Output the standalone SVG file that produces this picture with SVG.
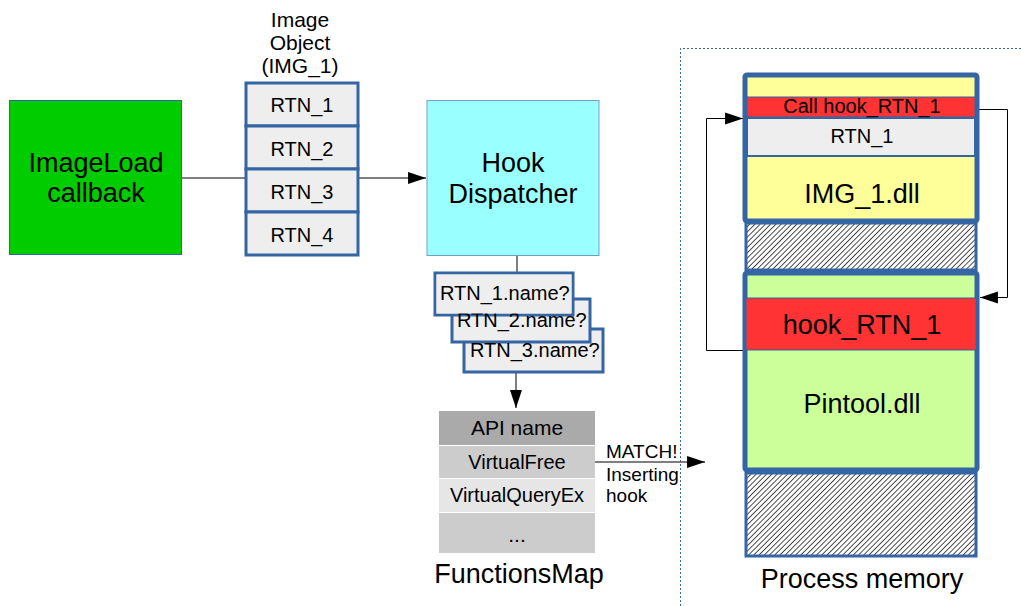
<svg xmlns="http://www.w3.org/2000/svg" width="1021" height="606" viewBox="0 0 1021 606">
  <style>
    text { font-family: "Liberation Sans", Arial, sans-serif; fill: #000; }
    .c { text-anchor: middle; }
    .s { font-size: 20px; }
    .l { font-size: 27px; }
    .cell { fill: #eeeeee; stroke: #3465a4; stroke-width: 3; }
    .wire { fill: none; stroke: #555; stroke-width: 1.5; }
    .wire2 { fill: none; stroke: #000; stroke-width: 1; }
    .mem { stroke: #3465a4; stroke-width: 5; }
    .hatch { fill: url(#hatch); stroke: #3465a4; stroke-width: 3; }
    .frame { fill: none; stroke: #3465a4; stroke-width: 1; stroke-dasharray: 2 2; }
  </style>
  <defs>
    <marker id="arrow" viewBox="0 0 10 10" refX="10" refY="5" markerWidth="10" markerHeight="10" markerUnits="userSpaceOnUse" orient="auto" overflow="visible">
      <path d="M0,0 L10,5 L0,10 Z" fill="#000" transform="scale(1.8,1.2) translate(-4.4,-0.8)"/>
    </marker>
    <pattern id="hatch" width="3.7" height="3.7" patternUnits="userSpaceOnUse" patternTransform="rotate(45)">
      <rect width="3.7" height="3.7" fill="#fff"/>
      <line x1="0" y1="0" x2="0" y2="3.7" stroke="#000" stroke-width="1.4"/>
    </pattern>
  </defs>

  <rect width="1021" height="606" fill="#fff"/>

  <!-- process memory frame -->
  <path class="frame" d="M680.5,606 L680.5,48.5 L1021,48.5"/>

  <g id="connectors">
    <line class="wire" x1="182" y1="178" x2="245" y2="178"/>
    <line class="wire" x1="358" y1="178" x2="426" y2="178" marker-end="url(#arrow)"/>
    <line class="wire" x1="517" y1="256" x2="517" y2="272"/>
    <line class="wire" x1="516" y1="372" x2="516" y2="408" marker-end="url(#arrow)"/>
    <line class="wire" x1="595" y1="462" x2="705" y2="462" marker-end="url(#arrow)"/>
    <polyline class="wire2" points="979,109.5 1007.5,109.5 1007.5,297.5 980,297.5" marker-end="url(#arrow)"/>
    <polyline class="wire2" points="745,350.5 706.5,350.5 706.5,118.5 743,118.5" marker-end="url(#arrow)"/>
  </g>

  <g id="imageload">
    <rect x="9.5" y="100.5" width="172" height="154" fill="#00cc00" stroke="#3465a4" stroke-width="1"/>
    <text class="c l" x="96" y="172">ImageLoad</text>
    <text class="c l" x="96" y="202">callback</text>
  </g>

  <g id="image-object">
    <text class="c" x="300" y="27" font-size="21">Image</text>
    <text class="c" x="300" y="50" font-size="21">Object</text>
    <text class="c" x="300" y="73" font-size="21">(IMG_1)</text>
    <rect class="cell" x="246" y="83" width="112" height="43"/>
    <rect class="cell" x="246" y="126" width="112" height="43"/>
    <rect class="cell" x="246" y="169" width="112" height="43"/>
    <rect class="cell" x="246" y="212" width="112" height="43"/>
    <text class="c s" x="302" y="112">RTN_1</text>
    <text class="c s" x="302" y="156">RTN_2</text>
    <text class="c s" x="302" y="199">RTN_3</text>
    <text class="c s" x="302" y="242">RTN_4</text>
  </g>

  <g id="hook-dispatcher">
    <rect x="427" y="100.5" width="172" height="155" fill="#99ffff" stroke="#729fcf" stroke-width="1"/>
    <text class="c l" x="513" y="172">Hook</text>
    <text class="c l" x="513" y="203">Dispatcher</text>
  </g>

  <g id="name-queries">
    <rect class="cell" x="464" y="329" width="139" height="43"/>
    <rect class="cell" x="452" y="299" width="138" height="43"/>
    <rect class="cell" x="435" y="273" width="138" height="42"/>
    <text class="s" x="470" y="357">RTN_3.name?</text>
    <text class="s" x="457" y="327">RTN_2.name?</text>
    <rect x="436.5" y="274.5" width="135" height="39" fill="#eeeeee"/>
    <text class="s" x="440" y="300">RTN_1.name?</text>
  </g>

  <g id="functions-map">
    <rect x="439" y="411" width="156" height="34" fill="#aaaaaa"/>
    <rect x="439" y="446" width="156" height="32" fill="#cccccc"/>
    <rect x="439" y="479" width="156" height="33" fill="#e6e6e6"/>
    <rect x="439" y="513" width="156" height="40" fill="#cccccc"/>
    <text class="c" x="517" y="435" font-size="21">API name</text>
    <text class="c s" x="517" y="469">VirtualFree</text>
    <text class="c s" x="517" y="502">VirtualQueryEx</text>
    <text class="c" x="517" y="542" font-size="21">...</text>
    <text class="c l" x="519" y="583">FunctionsMap</text>
  </g>

  <g id="match-label">
    <text x="606" y="458" font-size="19">MATCH!</text>
    <text x="606" y="481" font-size="19">Inserting</text>
    <text x="606" y="502" font-size="19">hook</text>
  </g>

  <g id="img1-dll">
    <rect class="mem" x="745" y="75" width="232" height="146" rx="2" fill="#ffff99"/>
    <rect x="747" y="97" width="228" height="20" fill="#ff3333" stroke="#3465a4" stroke-width="1"/>
    <rect x="747" y="118" width="228" height="38" fill="#eeeeee" stroke="#3465a4" stroke-width="2"/>
    <text class="c s" x="862" y="113">Call hook_RTN_1</text>
    <text class="c s" x="862" y="143">RTN_1</text>
    <text class="c l" x="862" y="203">IMG_1.dll</text>
  </g>

  <g id="gap-1">
    <rect class="hatch" x="746" y="223" width="230" height="47"/>
  </g>

  <g id="pintool-dll">
    <rect class="mem" x="745" y="273" width="232" height="197" rx="2" fill="#ccff99"/>
    <rect x="746" y="298" width="230" height="52" fill="#ff3333" stroke="#3465a4" stroke-width="1"/>
    <text class="c l" x="862" y="334">hook_RTN_1</text>
    <text class="c l" x="862" y="413">Pintool.dll</text>
  </g>

  <g id="gap-2">
    <rect class="hatch" x="746" y="473" width="230" height="83"/>
  </g>

  <text class="c l" x="862" y="588">Process memory</text>
</svg>
